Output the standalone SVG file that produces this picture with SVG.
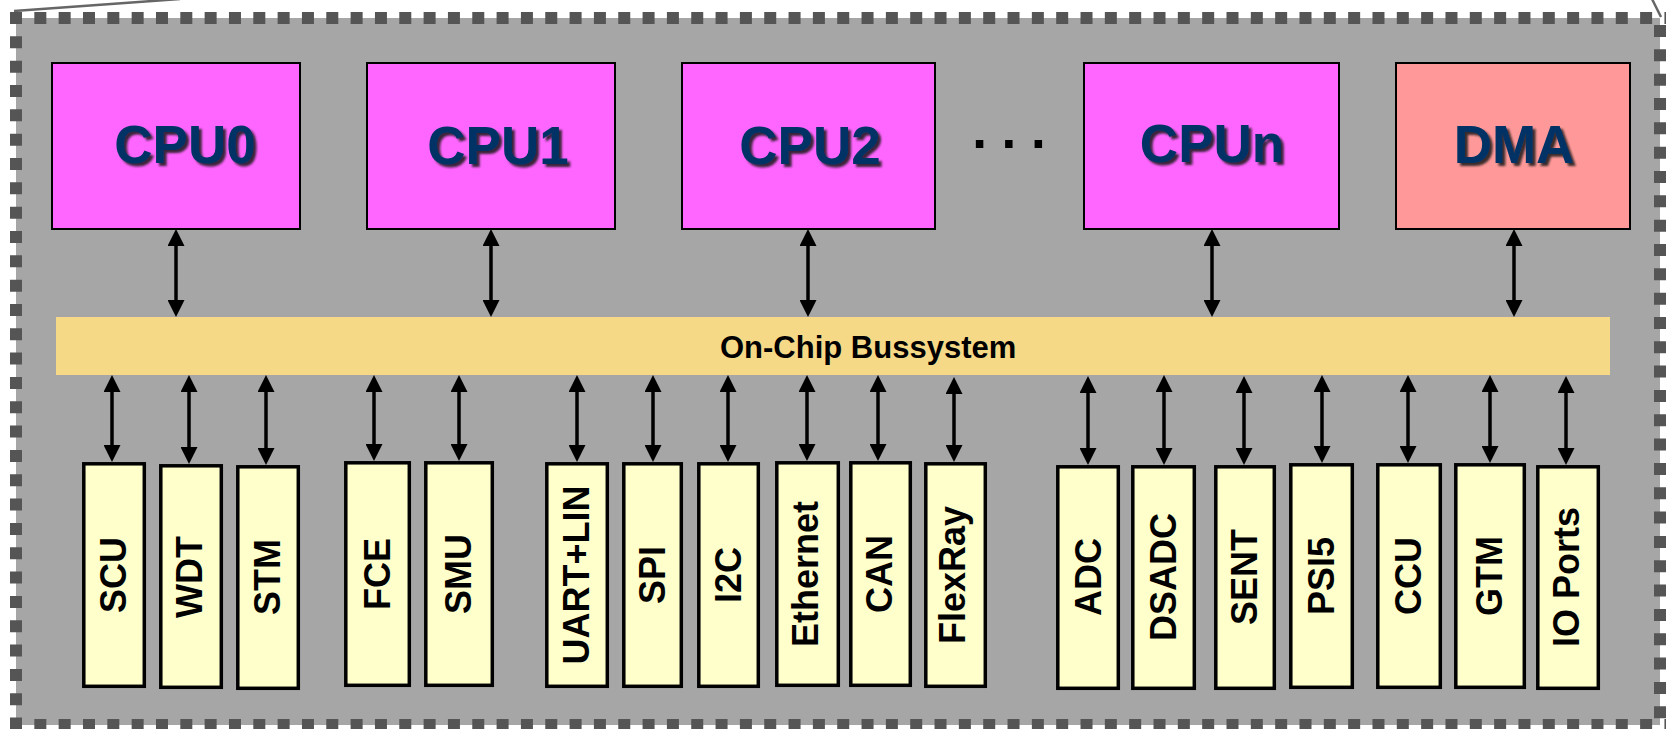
<svg xmlns="http://www.w3.org/2000/svg" width="1671" height="729" viewBox="0 0 1671 729">
<defs>
<style>
.cpu{fill:#FF66FF;stroke:#000;stroke-width:2}
.dma{fill:#FF9999;stroke:#000;stroke-width:2}
.per{fill:#FFFFCC;stroke:#000;stroke-width:3.5}
.big{font-family:"Liberation Sans",Arial,sans-serif;font-weight:bold;font-size:53px;fill:#003366;text-anchor:middle}
.dots{font-family:"Liberation Sans",Arial,sans-serif;font-weight:bold;font-size:53px;fill:#000;text-anchor:middle}
.pt{font-family:"Liberation Sans",Arial,sans-serif;font-weight:bold;font-size:36px;fill:#000;text-anchor:middle}
.bus{font-family:"Liberation Sans",Arial,sans-serif;font-weight:bold;font-size:31px;fill:#000}
.arr{stroke:#000;stroke-width:3.5;fill:none;marker-start:url(#ah);marker-end:url(#ah)}
.brd{stroke:#555;stroke-width:12;stroke-dasharray:12 12.33;fill:none}
</style>
<marker id="ah" markerUnits="userSpaceOnUse" markerWidth="17" markerHeight="17" refX="4" refY="8.5" orient="auto-start-reverse" viewBox="0 0 17 17">
<path d="M0,0 L17,8.5 L0,17 z" fill="#000"/>
</marker>
<filter id="sh" x="-10%" y="-20%" width="130%" height="150%">
<feGaussianBlur in="SourceAlpha" stdDeviation="1.2"/>
<feOffset dx="2.5" dy="2.5" result="b"/>
<feFlood flood-color="#1a1a1a" flood-opacity="0.85"/>
<feComposite in2="b" operator="in"/>
<feMerge><feMergeNode/><feMergeNode in="SourceGraphic"/></feMerge>
</filter>
</defs>
<rect x="0" y="0" width="1671" height="729" fill="#fff"/>
<g id="frame">
<line x1="14" y1="11" x2="180" y2="-1" stroke="#666" stroke-width="2.5"/>
<line x1="1652" y1="-1" x2="1661" y2="17" stroke="#666" stroke-width="2.5"/>
<rect x="16" y="18" width="1644" height="707" fill="#A6A6A6"/>
<line class="brd" x1="10" y1="18" x2="1666" y2="18"/>
<line class="brd" x1="10" y1="725" x2="1666" y2="725"/>
<line class="brd" x1="16" y1="12" x2="16" y2="729"/>
<line class="brd" x1="1660" y1="25" x2="1660" y2="729"/>
</g>
<g id="cpu0"><rect class="cpu" x="52" y="63" width="248" height="166"/><text class="big" x="185" y="163" filter="url(#sh)">CPU0</text></g>
<g id="cpu1"><rect class="cpu" x="367" y="63" width="248" height="166"/><text class="big" x="498" y="164" filter="url(#sh)">CPU1</text></g>
<g id="cpu2"><rect class="cpu" x="682" y="63" width="253" height="166"/><text class="big" x="810" y="164" filter="url(#sh)">CPU2</text></g>
<g id="ellipsis"><text class="dots" x="1009" y="148">. . .</text></g>
<g id="cpun"><rect class="cpu" x="1084" y="63" width="255" height="166"/><text class="big" x="1212" y="162" filter="url(#sh)">CPUn</text></g>
<g id="dma"><rect class="dma" x="1396" y="63" width="234" height="166"/><text class="big" x="1514" y="163" filter="url(#sh)">DMA</text></g>
<g id="bus"><rect x="56" y="317" width="1554" height="58" fill="#F6D987"/><text class="bus" x="720" y="358">On-Chip Bussystem</text></g>
<g id="scu"><rect class="per" x="83.8" y="463.8" width="60.5" height="222.5"/><text class="pt" transform="translate(126,575) rotate(-90)">SCU</text></g>
<g id="wdt"><rect class="per" x="160.8" y="465.8" width="60.5" height="221.5"/><text class="pt" transform="translate(202,577) rotate(-90)">WDT</text></g>
<g id="stm"><rect class="per" x="237.8" y="466.8" width="60.5" height="221.5"/><text class="pt" transform="translate(280,577) rotate(-90)">STM</text></g>
<g id="fce"><rect class="per" x="345.8" y="462.8" width="63.5" height="222.5"/><text class="pt" transform="translate(390,574) rotate(-90)">FCE</text></g>
<g id="smu"><rect class="per" x="425.8" y="462.8" width="66.5" height="222.5"/><text class="pt" transform="translate(471,574) rotate(-90)">SMU</text></g>
<g id="uartlin"><rect class="per" x="546.8" y="463.8" width="60.5" height="222.5"/><text class="pt" transform="translate(589,575) rotate(-90)">UART+LIN</text></g>
<g id="spi"><rect class="per" x="623.8" y="463.8" width="57.5" height="222.5"/><text class="pt" transform="translate(665,575) rotate(-90)">SPI</text></g>
<g id="i2c"><rect class="per" x="698.8" y="463.8" width="59.5" height="222.5"/><text class="pt" transform="translate(741,575) rotate(-90)">I2C</text></g>
<g id="ethernet"><rect class="per" x="776.8" y="462.8" width="61.5" height="222.5"/><text class="pt" transform="translate(818,574) rotate(-90)">Ethernet</text></g>
<g id="can"><rect class="per" x="850.8" y="462.8" width="59.5" height="222.5"/><text class="pt" transform="translate(892,574) rotate(-90)">CAN</text></g>
<g id="flexray"><rect class="per" x="925.8" y="463.8" width="59.5" height="222.5"/><text class="pt" transform="translate(965,575) rotate(-90)">FlexRay</text></g>
<g id="adc"><rect class="per" x="1057.8" y="466.8" width="60.5" height="221.5"/><text class="pt" transform="translate(1101,577) rotate(-90)">ADC</text></g>
<g id="dsadc"><rect class="per" x="1132.8" y="466.8" width="61.5" height="221.5"/><text class="pt" transform="translate(1176,577) rotate(-90)">DSADC</text></g>
<g id="sent"><rect class="per" x="1215.8" y="466.8" width="58.5" height="221.5"/><text class="pt" transform="translate(1257,577) rotate(-90)">SENT</text></g>
<g id="psi5"><rect class="per" x="1290.8" y="464.8" width="61.5" height="222.5"/><text class="pt" transform="translate(1334,576) rotate(-90)">PSI5</text></g>
<g id="ccu"><rect class="per" x="1377.8" y="464.8" width="62.5" height="222.5"/><text class="pt" transform="translate(1421,576) rotate(-90)">CCU</text></g>
<g id="gtm"><rect class="per" x="1455.8" y="464.8" width="68.5" height="222.5"/><text class="pt" transform="translate(1502,576) rotate(-90)">GTM</text></g>
<g id="ioports"><rect class="per" x="1537.8" y="466.8" width="60.5" height="221.5"/><text class="pt" transform="translate(1579,577) rotate(-90)">IO Ports</text></g>
<g id="connectors">
<line class="arr" x1="176" y1="242" x2="176" y2="304"/>
<line class="arr" x1="491" y1="242" x2="491" y2="304"/>
<line class="arr" x1="808" y1="242" x2="808" y2="304"/>
<line class="arr" x1="1212" y1="242" x2="1212" y2="304"/>
<line class="arr" x1="1514" y1="242" x2="1514" y2="304"/>
<line class="arr" x1="112" y1="388" x2="112" y2="449"/>
<line class="arr" x1="189" y1="388" x2="189" y2="451"/>
<line class="arr" x1="266" y1="388" x2="266" y2="452"/>
<line class="arr" x1="374" y1="388" x2="374" y2="448"/>
<line class="arr" x1="459" y1="388" x2="459" y2="448"/>
<line class="arr" x1="577" y1="388" x2="577" y2="449"/>
<line class="arr" x1="653" y1="388" x2="653" y2="449"/>
<line class="arr" x1="728" y1="388" x2="728" y2="449"/>
<line class="arr" x1="807" y1="388" x2="807" y2="448"/>
<line class="arr" x1="878" y1="388" x2="878" y2="448"/>
<line class="arr" x1="954" y1="390" x2="954" y2="449"/>
<line class="arr" x1="1088" y1="389" x2="1088" y2="452"/>
<line class="arr" x1="1164" y1="388" x2="1164" y2="452"/>
<line class="arr" x1="1244" y1="389" x2="1244" y2="452"/>
<line class="arr" x1="1322" y1="388" x2="1322" y2="450"/>
<line class="arr" x1="1408" y1="388" x2="1408" y2="450"/>
<line class="arr" x1="1490" y1="388" x2="1490" y2="450"/>
<line class="arr" x1="1566" y1="389" x2="1566" y2="452"/>
</g>
</svg>
